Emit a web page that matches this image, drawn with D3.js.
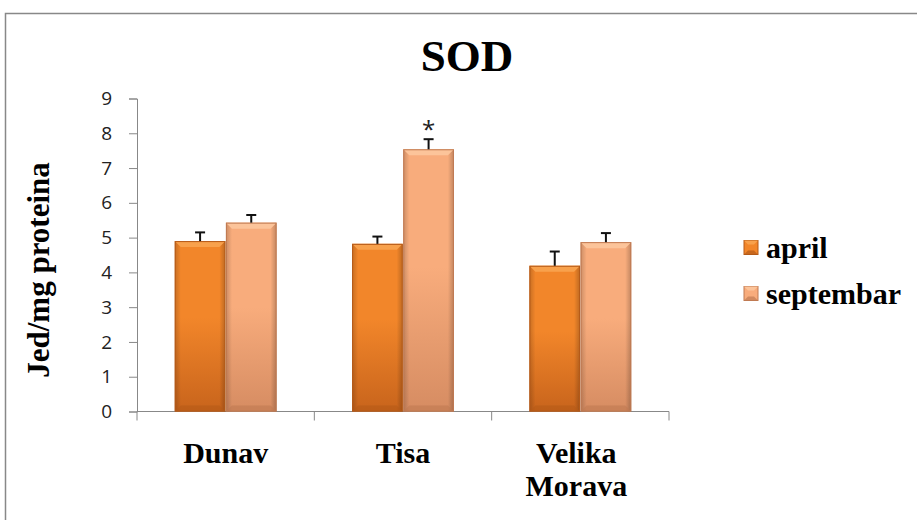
<!DOCTYPE html>
<html><head><meta charset="utf-8">
<script src="https://cdn.jsdelivr.net/npm/d3@7"></script>
<style>body{margin:0;background:#fff}svg{display:block}</style>
</head><body>
<script>
const categories = ["Dunav", "Tisa", "Velika Morava"];
const seriesNames = ["april", "septembar"];
const april = [4.9, 4.82, 4.19];
const septembar = [5.43, 7.54, 4.87];
const aprilErr = [0.25, 0.21, 0.41];
const septembarErr = [0.22, 0.29, 0.26];
const yTicks = [0,1,2,3,4,5,6,7,8,9];
const stars = [null, "*", null];

const W = 917, H = 520;
const svg = d3.select("body").append("svg").attr("width", W).attr("height", H);
const defs = svg.append("defs");
const colors = {
  april: {top:"#f8a14c", mid:"#f2862a", bot:"#c8641c", side:"#b55a18"},
  septembar: {top:"#fcc49a", mid:"#f8ac7c", bot:"#d68c62", side:"#c07a52"}
};
seriesNames.forEach(s => {
  const g = defs.append("linearGradient").attr("id","g_"+s).attr("x1",0).attr("y1",0).attr("x2",0).attr("y2",1);
  g.append("stop").attr("offset","0%").attr("stop-color",colors[s].mid);
  g.append("stop").attr("offset","45%").attr("stop-color",colors[s].mid);
  g.append("stop").attr("offset","100%").attr("stop-color",colors[s].bot);
  const h = defs.append("linearGradient").attr("id","h_"+s).attr("x1",0).attr("y1",0).attr("x2",1).attr("y2",0);
  h.append("stop").attr("offset","0%").attr("stop-color","#000").attr("stop-opacity",0.18);
  h.append("stop").attr("offset","12%").attr("stop-color","#000").attr("stop-opacity",0);
  h.append("stop").attr("offset","88%").attr("stop-color","#000").attr("stop-opacity",0);
  h.append("stop").attr("offset","100%").attr("stop-color","#000").attr("stop-opacity",0.22);
});

// outer border
svg.append("rect").attr("x",5.5).attr("y",13.5).attr("width",W).attr("height",H)
  .attr("fill","none").attr("stroke","#888").attr("stroke-width",1.5);

const x0 = d3.scaleBand().domain(categories).range([137, 669]).paddingInner(0).paddingOuter(0);
const inner = 0.21;
const x1 = d3.scaleBand().domain(seriesNames).range([x0.bandwidth()*inner, x0.bandwidth()*(1-inner)]).padding(0.01);
const y = d3.scaleLinear().domain([0, 9]).range([411.5, 98.5]);

// title
svg.append("text").attr("x",467).attr("y",71).attr("text-anchor","middle")
  .attr("font-family","Liberation Serif").attr("font-weight","bold").attr("font-size",45).text("SOD");

// y axis
const yAxis = svg.append("g").attr("transform","translate(137,0)")
  .call(d3.axisLeft(y).tickValues(yTicks).tickSize(8).tickPadding(17).tickFormat(d3.format("d")));
yAxis.select(".domain").attr("stroke","#888");
yAxis.selectAll(".tick line").attr("stroke","#888");
yAxis.selectAll("text").attr("font-family","Open Sans").attr("font-size",19).attr("fill","#222");

// x axis
svg.append("line").attr("x1",137).attr("x2",669).attr("y1",y(0)).attr("y2",y(0)).attr("stroke","#888");
const bounds = [137].concat(categories.map(c => x0(c)+x0.bandwidth()));
svg.selectAll(".xt").data(bounds).enter().append("line")
  .attr("x1",d=>d).attr("x2",d=>d).attr("y1",y(0)).attr("y2",y(0)+9).attr("stroke","#888");

// y title
svg.append("text").attr("transform","translate(49,270) rotate(-90)").attr("text-anchor","middle")
  .attr("font-family","Liberation Serif").attr("font-weight","bold").attr("font-size",31).text("Jed/mg proteina");

const data = { april: april, septembar: septembar };
const errs = { april: aprilErr, septembar: septembarErr };

categories.forEach((c, i) => {
  seriesNames.forEach(s => {
    const bx = x0(c) + x1(s), bw = x1.bandwidth();
    const v = data[s][i];
    const top = y(v), bot = y(0), hgt = bot - top;
    const g = svg.append("g");
    g.append("rect").attr("x",bx).attr("y",top).attr("width",bw).attr("height",hgt).attr("fill","url(#g_"+s+")");
    g.append("rect").attr("x",bx).attr("y",top).attr("width",bw).attr("height",hgt).attr("fill","url(#h_"+s+")");
    const bv = 6;
    g.append("path").attr("d",`M${bx},${top}L${bx+bw},${top}L${bx+bw-bv},${top+bv}L${bx+bv},${top+bv}Z`)
      .attr("fill",colors[s].top);
    g.append("path").attr("d",`M${bx},${bot}L${bx+bw},${bot}L${bx+bw-bv},${bot-bv}L${bx+bv},${bot-bv}Z`)
      .attr("fill",colors[s].side).attr("opacity",0.6);
    g.append("rect").attr("x",bx+0.5).attr("y",top+0.5).attr("width",bw-1).attr("height",hgt-1)
      .attr("fill","none").attr("stroke",colors[s].side).attr("stroke-width",1);
    const cx = bx + bw/2, et = y(v + errs[s][i]);
    g.append("line").attr("x1",cx).attr("x2",cx).attr("y1",top).attr("y2",et).attr("stroke","#111").attr("stroke-width",2);
    g.append("line").attr("x1",cx-5).attr("x2",cx+5).attr("y1",et).attr("y2",et).attr("stroke","#111").attr("stroke-width",2);
    if (s === "septembar" && stars[i]) {
      svg.append("text").attr("x",cx).attr("y",et-1).attr("text-anchor","middle")
        .attr("font-family","Open Sans").attr("font-size",24).attr("fill","#222").text(stars[i]);
    }
  });
});

// category labels
categories.forEach(c => {
  const words = c.split(" ");
  const t = svg.append("text").attr("text-anchor","middle").attr("font-family","Liberation Serif")
    .attr("font-weight","bold").attr("font-size",30);
  words.forEach((w, k) => {
    t.append("tspan").attr("x", x0(c)+x0.bandwidth()/2 - (words.length>1?4:0)).attr("y", 463 + k*33).text(w);
  });
});

// legend
seriesNames.forEach((s, k) => {
  const ly = 247.5 + k*46;
  const sx = 744, sz = 14, sy = ly - sz/2;
  svg.append("rect").attr("x",sx).attr("y",sy).attr("width",sz).attr("height",sz)
    .attr("fill",colors[s].mid).attr("stroke",colors[s].side);
  svg.append("path").attr("d",`M${sx},${sy}L${sx+sz},${sy}L${sx+sz-4},${sy+4}L${sx+4},${sy+4}Z`).attr("fill",colors[s].top);
  svg.append("path").attr("d",`M${sx},${sy+sz}L${sx+sz},${sy+sz}L${sx+sz-4},${sy+sz-4}L${sx+4},${sy+sz-4}Z`).attr("fill",colors[s].side).attr("opacity",0.7);
  svg.append("text").attr("x",766).attr("y",ly+10.5).attr("font-family","Liberation Serif")
    .attr("font-weight","bold").attr("font-size",30).text(s);
});
</script>
</body></html>
